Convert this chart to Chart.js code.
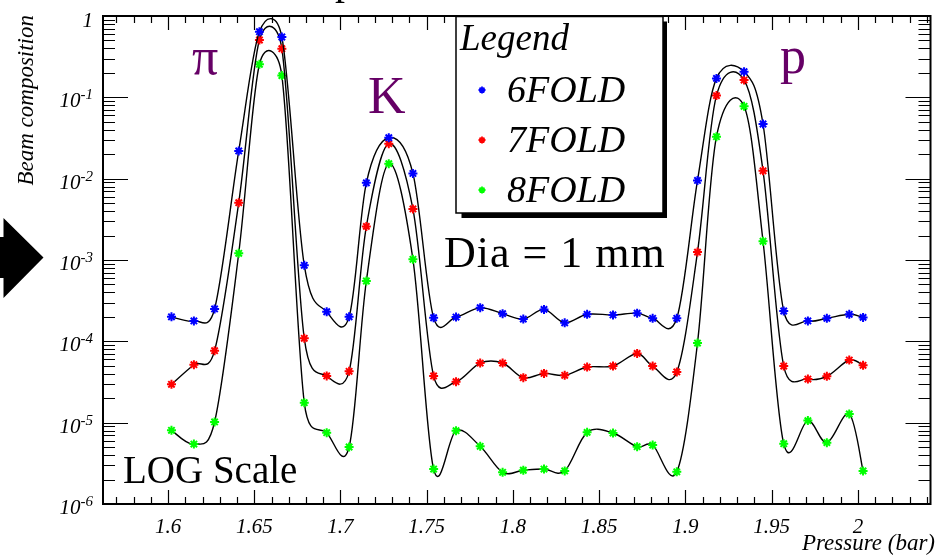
<!DOCTYPE html>
<html>
<head>
<meta charset="utf-8">
<script src="https://cdn.jsdelivr.net/npm/chart.js@4.4.0/dist/chart.umd.min.js"></script>
<style>
  html, body { margin: 0; padding: 0; background: #fff; }
</style>
</head>
<body>
<canvas id="beamChart" width="937" height="556"></canvas>
<script>
// pressure scan points (bar)
const pressure = [1.602, 1.615, 1.627, 1.641, 1.653, 1.666, 1.679, 1.692, 1.705, 1.715, 1.728,
  1.742, 1.754, 1.767, 1.781, 1.794, 1.806, 1.818, 1.830, 1.843, 1.858, 1.872, 1.881, 1.895,
  1.907, 1.918, 1.934, 1.945, 1.957, 1.971, 1.982, 1.995, 2.003];

// beam composition for each coincidence level
const fold6 = [2.0e-4, 1.78e-4, 2.5e-4, 0.0219, 0.641, 0.552, 8.6e-4, 2.31e-4, 2.0e-4, 8.9e-3, 0.0319,
  0.0116, 1.95e-4, 1.99e-4, 2.59e-4, 2.19e-4, 1.88e-4, 2.47e-4, 1.69e-4, 2.15e-4, 2.11e-4, 2.22e-4,
  1.92e-4, 1.92e-4, 9.5e-3, 0.171, 0.207, 0.047, 2.36e-4, 1.78e-4, 1.92e-4, 2.15e-4, 1.97e-4];
const fold7 = [2.96e-5, 5.16e-5, 7.68e-5, 5.07e-3, 0.507, 0.396, 1.09e-4, 3.75e-5, 4.28e-5, 2.59e-3, 0.0269,
  4.24e-3, 3.75e-5, 3.19e-5, 5.41e-5, 5.41e-5, 3.57e-5, 4.03e-5, 3.82e-5, 4.83e-5, 4.97e-5, 7.1e-5,
  4.97e-5, 4.2e-5, 1.25e-3, 0.105, 0.163, 0.0125, 4.97e-5, 3.44e-5, 3.71e-5, 5.89e-5, 5.07e-5];
const fold8 = [8.05e-6, 5.46e-6, 1.02e-5, 1.21e-3, 0.255, 0.185, 1.76e-5, 7.53e-6, 5.02e-6, 5.52e-4, 0.0153,
  1.02e-3, 2.69e-6, 7.97e-6, 5.12e-6, 2.45e-6, 2.6e-6, 2.69e-6, 2.55e-6, 7.6e-6, 7.46e-6, 5.06e-6,
  5.31e-6, 2.49e-6, 9.53e-5, 0.0328, 0.0775, 1.70e-3, 5.52e-6, 1.06e-5, 5.68e-6, 1.28e-5, 2.55e-6];

const seriesNames = ["6FOLD", "7FOLD", "8FOLD"];
const seriesColors = ["#0000ff", "#ff0000", "#00ff00"];

const xMajorTicks = [1.6, 1.65, 1.7, 1.75, 1.8, 1.85, 1.9, 1.95, 2];
const xTickLabels = ["1.6", "1.65", "1.7", "1.75", "1.8", "1.85", "1.9", "1.95", "2"];
const yDecades = [0, -1, -2, -3, -4, -5, -6];

const SERIF = '"Liberation Serif", "Times New Roman", serif';
const PURPLE = "#660066";

function makeSet(i, values) {
  return {
    label: seriesNames[i],
    data: pressure.map((p, k) => ({ x: p, y: values[k] })),
    borderColor: "#000",
    borderWidth: 1.4,
    tension: 0.4,
    fill: false,
    pointStyle: "star",
    pointRadius: 4.5,
    pointBorderWidth: 2,
    pointBorderColor: seriesColors[i],
    pointBackgroundColor: seriesColors[i],
  };
}

// smooth curve through the points: Catmull-Rom control points on the line element,
// each handle kept no longer than the segment it belongs to
const smoothCurve = {
  id: "smoothCurve",
  beforeDatasetDraw(chart, args) {
    const meta = args.meta;
    const pts = meta.data;
    if (!pts || pts.length < 3 || !meta.dataset) return;
    const n = pts.length;
    const dist = (a, b) => Math.hypot(b.x - a.x, b.y - a.y);
    for (let i = 0; i < n; i++) {
      const p = pts[i];
      const prev = pts[Math.max(i - 1, 0)];
      const next = pts[Math.min(i + 1, n - 1)];
      const tx = (next.x - prev.x) / 6;
      const ty = (next.y - prev.y) / 6;
      const len = Math.hypot(tx, ty) || 1;
      const kIn = Math.min(1, dist(prev, p) / len);
      const kOut = Math.min(1, dist(p, next) / len);
      p.cp1x = p.x - tx * kIn;
      p.cp1y = p.y - ty * kIn;
      p.cp2x = p.x + tx * kOut;
      p.cp2y = p.y + ty * kOut;
    }
    meta.dataset._pointsUpdated = true;
    meta.dataset._path = undefined;
  }
};

function drawStar(ctx, x, y, r, color, lw) {
  ctx.save();
  ctx.strokeStyle = color;
  ctx.lineWidth = lw;
  ctx.beginPath();
  ctx.moveTo(x - r, y); ctx.lineTo(x + r, y);
  ctx.moveTo(x, y - r); ctx.lineTo(x, y + r);
  const d = r * 0.7071;
  ctx.moveTo(x - d, y - d); ctx.lineTo(x + d, y + d);
  ctx.moveTo(x - d, y + d); ctx.lineTo(x + d, y - d);
  ctx.stroke();
  ctx.restore();
}

// ROOT style frame, inward ticks and labels
const rootAxes = {
  id: "rootAxes",
  afterDatasetsDraw(chart) {
    const { ctx, chartArea: a, scales: { x, y } } = chart;
    ctx.save();
    ctx.strokeStyle = "#000";
    ctx.lineWidth = 1.2;
    ctx.beginPath();
    for (let k = 157; k <= 204; k++) {
      const px = Math.round(x.getPixelForValue(k / 100)) + 0.5;
      const len = k % 5 === 0 ? 14 : 7;
      ctx.moveTo(px, a.bottom); ctx.lineTo(px, a.bottom - len);
      ctx.moveTo(px, a.top); ctx.lineTo(px, a.top + len);
    }
    for (let e = -6; e <= 0; e++) {
      for (let m = 1; m <= 9; m++) {
        if (e === 0 && m > 1) break;
        const py = Math.round(y.getPixelForValue(m * Math.pow(10, e))) + 0.5;
        const len = m === 1 ? 25 : 12;
        ctx.moveTo(a.left, py); ctx.lineTo(a.left + len, py);
        ctx.moveTo(a.right, py); ctx.lineTo(a.right - len, py);
      }
    }
    ctx.stroke();
    ctx.lineWidth = 2;
    ctx.strokeRect(a.left, a.top, a.right - a.left, a.bottom - a.top);

    ctx.fillStyle = "#000";
    ctx.textAlign = "center";
    ctx.textBaseline = "alphabetic";
    ctx.font = "italic 21px " + SERIF;
    xMajorTicks.forEach((v, i) => {
      ctx.fillText(xTickLabels[i], x.getPixelForValue(v), 533);
    });

    ctx.textAlign = "right";
    yDecades.forEach(e => {
      const py = y.getPixelForValue(Math.pow(10, e));
      if (e === 0) {
        ctx.font = "italic 21px " + SERIF;
        ctx.fillText("1", 93, py + 11);
        return;
      }
      const sup = "-" + (-e);
      ctx.font = "italic 15px " + SERIF;
      const w = ctx.measureText(sup).width;
      ctx.fillText(sup, 93, py + 2);
      ctx.font = "italic 21px " + SERIF;
      ctx.fillText("10", 93 - w, py + 10);
    });

    // axis titles
    ctx.font = "italic 23px " + SERIF;
    ctx.textAlign = "right";
    ctx.fillText("Pressure (bar)", 935, 550);
    ctx.save();
    ctx.translate(33, 15);
    ctx.rotate(-Math.PI / 2);
    ctx.font = "italic 23px " + SERIF;
    ctx.fillText("Beam composition", 0, 0);
    ctx.restore();
    ctx.restore();
  },
  afterDraw(chart) {
    const ctx = chart.ctx;
    ctx.save();
    // title cut off at the top of the canvas
    ctx.fillStyle = "#000";
    ctx.font = "40px " + SERIF;
    ctx.textAlign = "left";
    ctx.fillText("p", 335, -6);

    // arrow on the left edge
    ctx.beginPath();
    ctx.moveTo(0, 237); ctx.lineTo(3.5, 237); ctx.lineTo(3.5, 218);
    ctx.lineTo(43.5, 257.5); ctx.lineTo(3.5, 298); ctx.lineTo(3.5, 278); ctx.lineTo(0, 278);
    ctx.closePath();
    ctx.fill();

    // particle labels
    ctx.fillStyle = PURPLE;
    ctx.font = "52px " + SERIF;
    ctx.fillText("π", 192, 74);
    ctx.fillText("K", 368, 113);
    ctx.fillText("p", 780, 73);

    // legend box with shadow
    ctx.fillStyle = "#000";
    ctx.fillRect(461.5, 21.5, 205.5, 196.5);
    ctx.fillStyle = "#fff";
    ctx.fillRect(456, 16.5, 207, 196.5);
    ctx.strokeStyle = "#000";
    ctx.lineWidth = 1.5;
    ctx.strokeRect(456, 16.5, 207, 196.5);
    ctx.fillStyle = "#000";
    ctx.font = "italic 37px " + SERIF;
    ctx.fillText("Legend", 460, 50);
    ctx.font = "italic 38px " + SERIF;
    seriesNames.forEach((name, i) => {
      const yy = 90 + i * 50;
      drawStar(ctx, 482, yy, 3.5, seriesColors[i], 1.8);
      ctx.fillStyle = "#000";
      ctx.fillText(name, 507, yy + 11.5);
    });

    // notes
    ctx.font = "44px " + SERIF;
    ctx.letterSpacing = "1px";
    ctx.fillText("Dia = 1 mm", 444, 267);
    ctx.letterSpacing = "0px";
    ctx.font = "39px " + SERIF;
    ctx.fillText("LOG Scale", 123, 483);
    ctx.restore();
  }
};

const chartCtx = document.getElementById("beamChart").getContext("2d");
const beamChart = new Chart(chartCtx, {
  type: "line",
  data: {
    datasets: [makeSet(0, fold6), makeSet(1, fold7), makeSet(2, fold8)],
  },
  options: {
    responsive: false,
    devicePixelRatio: 1,
    animation: false,
    events: [],
    layout: { padding: { left: 103, right: 2, top: 16, bottom: 52 } },
    plugins: { legend: { display: false }, tooltip: { enabled: false } },
    scales: {
      x: { type: "linear", min: 1.5623, max: 2.0421, display: false },
      y: { type: "logarithmic", min: 1e-6, max: 1, display: false },
    },
  },
  plugins: [smoothCurve, rootAxes],
});
</script>
</body>
</html>
